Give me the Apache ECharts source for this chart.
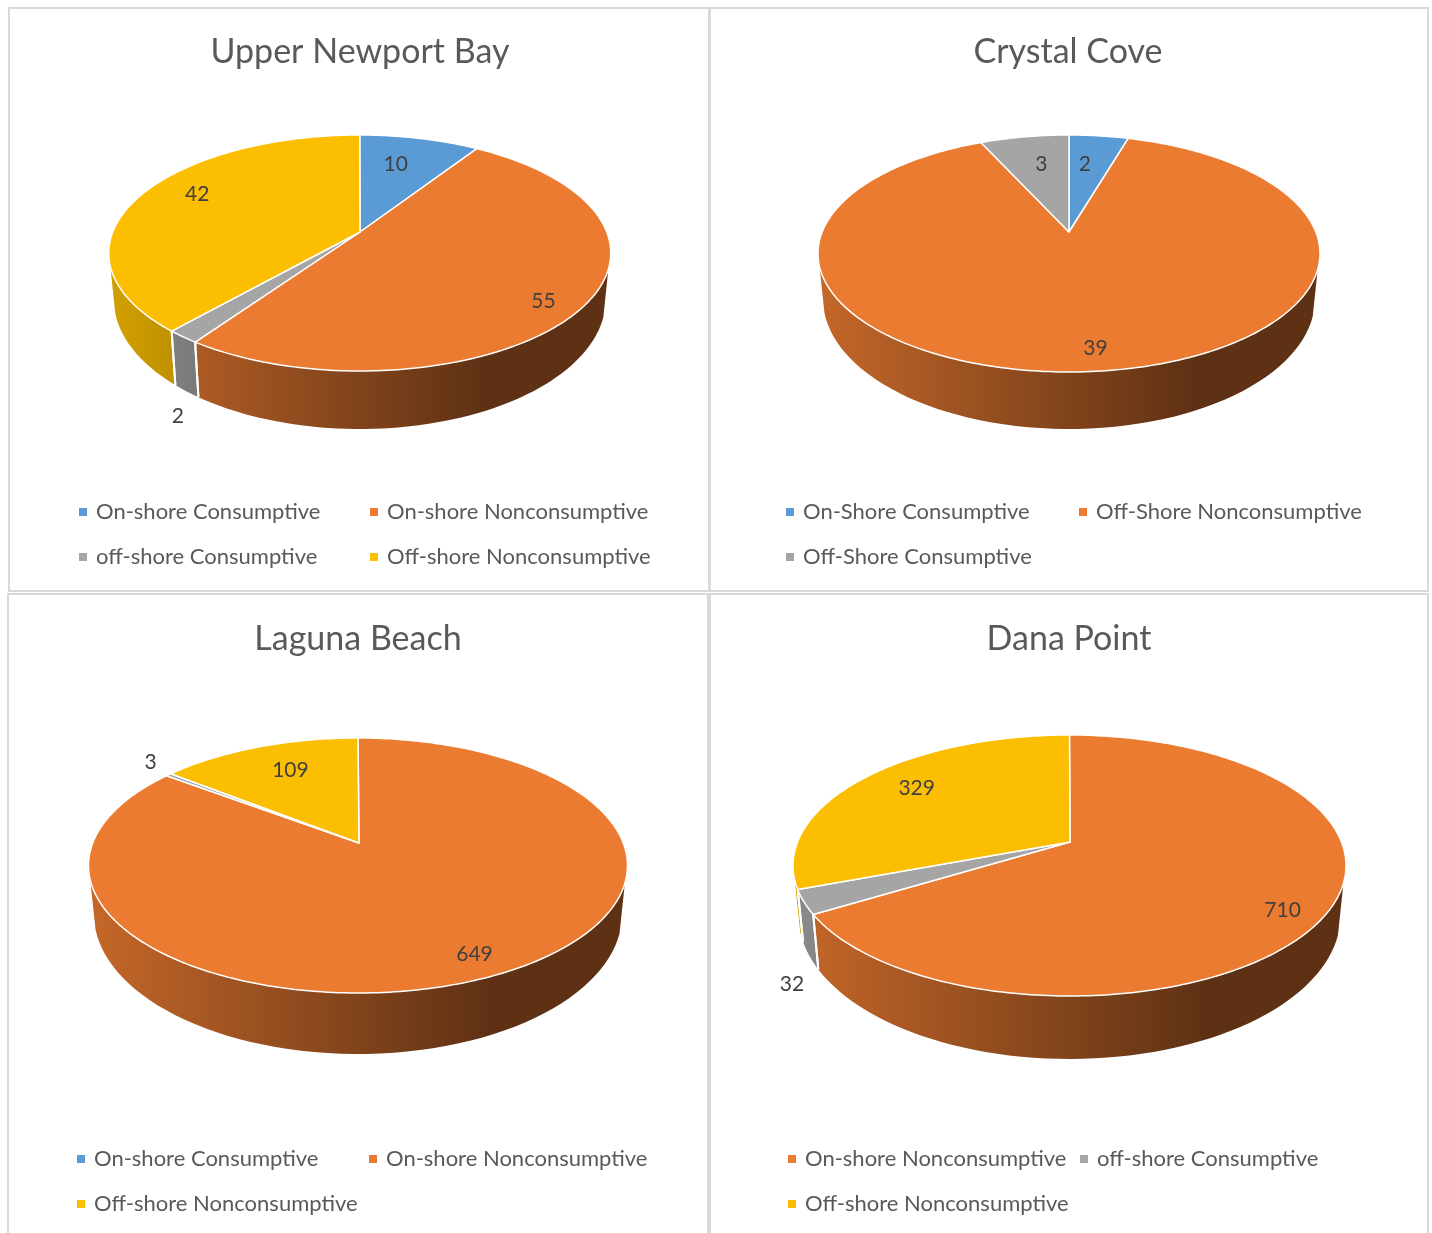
<!DOCTYPE html>
<html>
<head>
<meta charset="utf-8">
<title>Recreation use pies</title>
<script src="https://cdn.jsdelivr.net/npm/echarts@6/dist/echarts.min.js"></script>
<style>
html, body { margin: 0; padding: 0; background: #fff; }
#main { width: 1432px; height: 1233px; }
</style>
</head>
<body>
<div id="main"></div>
<script>
// values, clockwise from 12 o'clock
var newportNames = ['On-shore Consumptive', 'On-shore Nonconsumptive', 'off-shore Consumptive', 'Off-shore Nonconsumptive'];
var newportValues = [10, 55, 2, 42];
var crystalNames = ['On-Shore Consumptive', 'Off-Shore Nonconsumptive', 'Off-Shore Consumptive'];
var crystalValues = [2, 39, 3];
var lagunaNames = ['On-shore Consumptive', 'On-shore Nonconsumptive', 'off-shore Consumptive', 'Off-shore Nonconsumptive'];
var lagunaValues = [0, 649, 3, 109];
var danaNames = ['On-shore Nonconsumptive', 'off-shore Consumptive', 'Off-shore Nonconsumptive'];
var danaValues = [710, 32, 329];

var BLUE = '#5B9BD5', ORANGE = '#EB7B31', GRAY = '#A5A5A5', YELLOW = '#FBBE00';
var TEXT = '#595959', LABEL = '#404040', BORDER = '#D9D9D9';
var FONT = 'Lato';

// top, bottom, discX, halfWidth are the rim of the disc in pixels, cx/apexY is where the slices meet
var panels = [
	{
		title: 'Upper Newport Bay', titleX: 360, titleY: 35,
		names: newportNames, values: newportValues, colors: [BLUE, ORANGE, GRAY, YELLOW],
		cx: 360, apexY: 232, top: 135, bottom: 371, discX: 359.75, halfWidth: 251, depth: 58,
		labelOffset: [[-24, 25], [-44, -2], [-5, 78], [55, -1]],
		legendX: [79, 370], legendY: 501, legendCols: [[0, 2], [1, 3]]
	},
	{
		title: 'Crystal Cove', titleX: 1068, titleY: 35,
		names: crystalNames, values: crystalValues, colors: [BLUE, ORANGE, GRAY],
		cx: 1069, apexY: 232, top: 135, bottom: 372, discX: 1069, halfWidth: 251, depth: 57,
		labelOffset: [[-14, 27], [5, -24], [17, 26]],
		legendX: [786, 1079], legendY: 501, legendCols: [[0, 2], [1]]
	},
	{
		title: 'Laguna Beach', titleX: 358, titleY: 622,
		names: lagunaNames, values: lagunaValues, colors: [BLUE, ORANGE, GRAY, YELLOW],
		cx: 359, apexY: 843, top: 738, bottom: 993, discX: 358, halfWidth: 269.5, depth: 61,
		labelOffset: [[0, 0], [-24, -21], [-18, -14], [32, 22]],
		legendX: [77, 369], legendY: 1148, legendCols: [[0, 3], [1]]
	},
	{
		title: 'Dana Point', titleX: 1069, titleY: 622,
		names: danaNames, values: danaValues, colors: [ORANGE, GRAY, YELLOW],
		cx: 1070, apexY: 842, top: 735, bottom: 996, discX: 1069.5, halfWidth: 276.5, depth: 63,
		labelOffset: [[-47, -1], [-12, 81], [50, 10]],
		legendX: [788, 1080], legendY: 1148, legendCols: [[0, 2], [1]]
	}
];

var FRONT_FROM = 108, FRONT_TO = 253.5;	// part of the rim that shows a side wall
var SIDE_SCALE = 0.98;

function setupPanel(p) {
	var a = p.apexY - p.top;
	var b = p.bottom - p.apexY;
	p.k = (b - a) / (b + a);		// perspective of the disc
	p.ry = a * (1 + p.k);
	p.rx = p.halfWidth * Math.sqrt(1 - p.k * p.k);
	p.total = p.values.reduce(function (s, v) { return s + v; }, 0);
}

function rim(p, deg) {
	var t = deg * Math.PI / 180;
	var w = 1 + p.k * Math.cos(t);
	return [p.discX + p.rx * Math.sin(t) / w, p.apexY - p.ry * Math.cos(t) / w];
}

function rimBottom(p, pt) {
	var d0 = p.depth * 0.76;
	return [
		p.discX + (pt[0] - p.discX) * SIDE_SCALE,
		pt[1] + d0 + (p.depth - d0) * (pt[1] - p.apexY) / (p.bottom - p.apexY)
	];
}

function shade(hex, f) {
	var n = parseInt(hex.slice(1), 16);
	return 'rgb(' + Math.round((n >> 16) * f) + ',' + Math.round(((n >> 8) & 255) * f) + ',' + Math.round((n & 255) * f) + ')';
}

function sliceRenderer(p, idx) {
	return function () {
		var before = 0;
		for (var i = 0; i < idx; i++) before += p.values[i];
		var value = p.values[idx];
		if (!value) return { type: 'group', children: [] };
		var a0 = before / p.total * 360;
		var a1 = (before + value) / p.total * 360;
		var children = [];

		// side wall
		var s0 = Math.max(a0, FRONT_FROM), s1 = Math.min(a1, FRONT_TO);
		if (s1 > s0) {
			var up = [], down = [];
			for (var j = 0; j <= 60; j++) {
				var pt = rim(p, s0 + (s1 - s0) * j / 60);
				up.push(pt);
				down.unshift(rimBottom(p, pt));
			}
			children.push({
				type: 'polygon', z2: 1,
				shape: { points: up.concat(down) },
				style: {
					fill: new echarts.graphic.LinearGradient(p.discX - p.halfWidth, 0, p.discX + p.halfWidth, 0, [
						{ offset: 0, color: shade(p.colors[idx], 0.84) },
						{ offset: 0.75, color: shade(p.colors[idx], 0.4) },
						{ offset: 1, color: shade(p.colors[idx], 0.4) }
					], true)
				}
			});
			[a0, a1].forEach(function (edge) {
				if (edge > FRONT_FROM && edge < FRONT_TO) {
					var e = rim(p, edge), f = rimBottom(p, e);
					children.push({
						type: 'line', z2: 2,
						shape: { x1: e[0], y1: e[1], x2: f[0], y2: f[1] },
						style: { stroke: '#fff', lineWidth: 2 }
					});
				}
			});
		}

		// top face
		var pts = [[p.cx, p.apexY]];
		var steps = Math.max(4, Math.ceil(a1 - a0));
		for (var m = 0; m <= steps; m++) pts.push(rim(p, a0 + (a1 - a0) * m / steps));
		children.push({
			type: 'polygon', z2: 10,
			shape: { points: pts },
			style: { fill: p.colors[idx], stroke: '#fff', lineWidth: 1.5, lineJoin: 'round' }
		});

		// data label
		var anchor = rim(p, (a0 + a1) / 2);
		children.push({
			type: 'text', z2: 20,
			style: {
				x: anchor[0] + p.labelOffset[idx][0],
				y: anchor[1] + p.labelOffset[idx][1] + 1,
				text: String(value),
				fill: LABEL,
				font: '21px ' + FONT,
				align: 'center',
				verticalAlign: 'middle'
			}
		});
		return { type: 'group', children: children };
	};
}

var series = [], titles = [], legends = [], frames = [];

panels.forEach(function (p) {
	setupPanel(p);
	titles.push({
		text: p.title, left: p.titleX, top: p.titleY, textAlign: 'center', padding: 0,
		textStyle: { fontFamily: FONT, fontSize: 34, fontWeight: 'normal', color: TEXT }
	});
	p.names.forEach(function (name, i) {
		series.push({
			type: 'custom', name: name, coordinateSystem: 'none', silent: true,
			animation: false,
			itemStyle: { color: p.colors[i] },
			data: [p.values[i]],
			renderItem: sliceRenderer(p, i)
		});
	});
	p.legendCols.forEach(function (col, c) {
		legends.push({
			orient: 'vertical', left: p.legendX[c], top: p.legendY, padding: 0,
			itemGap: 23, itemWidth: 8, itemHeight: 8, icon: 'rect', selectedMode: false,
			textStyle: { fontFamily: FONT, fontSize: 22, color: TEXT, padding: [0, 0, 0, 4] },
			data: col.map(function (i) { return p.names[i]; })
		});
	});
});

// the four frames round the charts
[[9, 8, 700, 583], [710, 8, 718, 583], [8, 594, 700, 660], [710, 594, 718, 660]].forEach(function (r) {
	frames.push({
		type: 'rect', silent: true,
		shape: { x: r[0], y: r[1], width: r[2], height: r[3] },
		style: { fill: 'none', stroke: BORDER, lineWidth: 2 }
	});
});

var chart = echarts.init(document.getElementById('main'));
chart.setOption({
	animation: false,
	backgroundColor: '#fff',
	title: titles,
	legend: legends,
	graphic: frames,
	series: series
});
</script>
</body>
</html>
